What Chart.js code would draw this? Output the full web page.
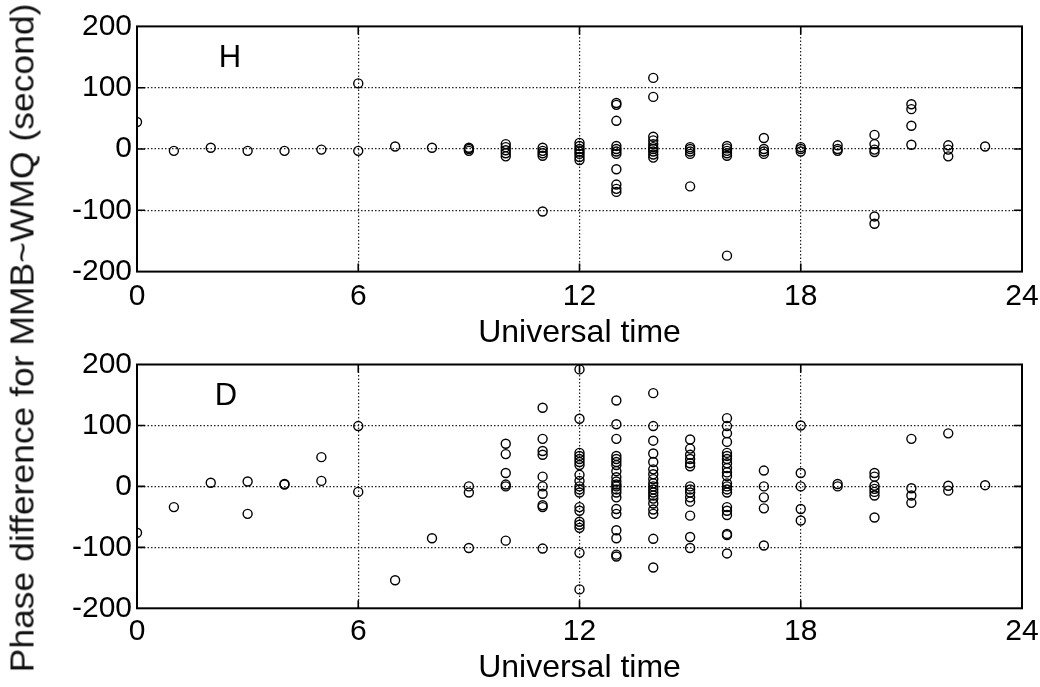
<!DOCTYPE html>
<html>
<head>
<meta charset="utf-8">
<script src="https://cdn.jsdelivr.net/npm/chart.js@4/dist/chart.umd.min.js"></script>
<style>
  html, body { margin: 0; padding: 0; background: #fff; }
  body { width: 1040px; height: 687px; position: relative; overflow: hidden; }
  .panel { position: absolute; left: 0; width: 1040px; }
  #ylabel {
    position: absolute; left: 22px; top: 338px;
    transform: translate(-50%, -50%) rotate(-90deg) scaleX(1.075);
    white-space: nowrap; font-family: "Liberation Sans", Arial, sans-serif;
    font-size: 33px; color: #111; line-height: 1;
  }
</style>
</head>
<body>
<div class="panel" style="top:0px;height:352px"><canvas id="cH" width="1040" height="352"></canvas></div>
<div class="panel" style="top:340px;height:347px"><canvas id="cD" width="1040" height="347"></canvas></div>
<div id="ylabel">Phase difference for MMB~WMQ (second)</div>
<script>
// ---- Data ----
const hours = [0,1,2,3,4,5,6,7,8,9,10,11,12,13,14,15,16,17,18,19,20,21,22,23];
const xTicks = [0, 6, 12, 18, 24];
const yTicks = [-200, -100, 0, 100, 200];
const xTitle = "Universal time";
const panelLabels = ["H", "D"];

// H component: phase differences (s) per UT hour
const hValues = [
  [44], [-3], [2], [-3], [-3], [-1], [107, -3], [4], [2],
  [2, 0, -3],
  [8, 3, -2, -7, -12],
  [2, -3, -7, -11, -102],
  [10, 5, 0, -4, -8, -13, -18],
  [75, 72, 46, 5, 0, -4, -8, -33, -58, -65, -70],
  [116, 85, 20, 14, 8, 3, 0, -4, -9, -14],
  [3, 0, -4, -8, -61],
  [5, 1, -3, -7, -11, -174],
  [18, 0, -4, -8],
  [3, 0, -4],
  [6, 0, -3],
  [23, 8, -1, -5, -110, -122],
  [73, 65, 38, 7],
  [6, -1, -12],
  [4]
];

// D component: phase differences (s) per UT hour
const dValues = [
  [-76], [-34], [6], [8, -45], [3, 4], [48, 9], [99, -9], [-154], [-85],
  [0, -10, -101],
  [70, 53, 22, 3, 0, -89],
  [129, 78, 58, 52, 16, 0, -12, -31, -34, -102],
  [192, 111, 55, 50, 45, 40, 35, 19, 9, 0, -5, -10, -34, -40, -58, -63, -68, -109, -169],
  [141, 102, 78, 50, 45, 40, 35, 25, 15, 8, 3, 0, -5, -10, -18, -37, -45, -72, -85, -112, -115],
  [153, 99, 75, 54, 40, 28, 20, 12, 5, 0, -5, -10, -15, -20, -28, -38, -45, -86, -133],
  [77, 62, 52, 45, 38, 33, 0, -5, -10, -18, -25, -48, -83, -101],
  [112, 99, 87, 73, 55, 50, 45, 38, 30, 23, 17, 5, 0, -5, -10, -34, -40, -47, -78, -80, -110],
  [26, 0, -18, -36, -97],
  [100, 22, 0, -37, -56],
  [4, 0],
  [22, 16, 1, -4, -9, -15, -51],
  [78, -3, -15, -27],
  [87, 1, -7],
  [2]
];

// ---- Build points ----
function toPoints(byHour) {
  const pts = [];
  hours.forEach((h, i) => (byHour[i] || []).forEach(v => pts.push({x: h, y: v})));
  return pts;
}

const FONT = '"Liberation Sans", Arial, sans-serif';

const framePlugin = {
  id: 'frame',
  afterDraw(chart, args, opts) {
    const {ctx, chartArea: a, scales} = chart;
    ctx.save();
    ctx.strokeStyle = '#000';
    ctx.lineWidth = 1.6;
    ctx.beginPath();
    [6, 12, 18].forEach(v => {
      const px = scales.x.getPixelForValue(v);
      ctx.moveTo(px, a.top); ctx.lineTo(px, a.top + 8);
      ctx.moveTo(px, a.bottom); ctx.lineTo(px, a.bottom - 8);
    });
    [-100, 0, 100].forEach(v => {
      const py = scales.y.getPixelForValue(v);
      ctx.moveTo(a.left, py); ctx.lineTo(a.left + 8, py);
      ctx.moveTo(a.right, py); ctx.lineTo(a.right - 8, py);
    });
    ctx.stroke();
    ctx.lineWidth = 2;
    ctx.strokeRect(a.left, a.top, a.right - a.left, a.bottom - a.top);
    ctx.fillStyle = '#000';
    ctx.font = '31px ' + FONT;
    ctx.textAlign = 'center';
    ctx.textBaseline = 'middle';
    ctx.fillText(opts.label, a.left + opts.dx, a.top + opts.dy);
    ctx.restore();
  }
};

function makeChart(id, values, label, topPad, xHeight, tickPad, labelDx, labelDy) {
  const gridColor = (c) => {
    const v = c.tick.value;
    return (v === c.scale.min || v === c.scale.max) ? 'rgba(0,0,0,0)' : '#222';
  };
  return new Chart(document.getElementById(id), {
    type: 'scatter',
    data: {
      datasets: [{
        data: toPoints(values),
        pointStyle: 'circle',
        pointRadius: 4.5,
        pointHoverRadius: 4.5,
        borderWidth: 1.4,
        borderColor: '#000',
        backgroundColor: 'rgba(0,0,0,0)',
        showLine: false
      }]
    },
    options: {
      responsive: false,
      animation: false,
      events: [],
      layout: { padding: { left: 0, right: 18, top: topPad, bottom: 0 } },
      plugins: {
        legend: { display: false },
        tooltip: { enabled: false },
        frame: { label: label, dx: labelDx, dy: labelDy }
      },
      scales: {
        x: {
          type: 'linear', min: xTicks[0], max: xTicks[xTicks.length - 1],
          afterBuildTicks: (s) => { s.ticks = xTicks.map(v => ({value: v})); },
          ticks: { color: '#000', font: { family: FONT, size: 30 }, padding: tickPad, maxRotation: 0, autoSkip: false },
          grid: { color: gridColor, lineWidth: 1.2, drawTicks: false },
          border: { display: false, dash: [1.5, 2] },
          title: { display: true, text: xTitle, color: '#000', font: { family: FONT, size: 32 }, padding: { top: 0, bottom: 0 } },
          afterFit: (s) => { s.height = xHeight; s.paddingLeft = 0; s.paddingRight = 0; }
        },
        y: {
          type: 'linear', min: yTicks[0], max: yTicks[yTicks.length - 1],
          afterBuildTicks: (s) => { s.ticks = yTicks.map(v => ({value: v})); },
          ticks: { color: '#000', font: { family: FONT, size: 30 }, padding: 5, autoSkip: false },
          grid: { color: gridColor, lineWidth: 1.2, drawTicks: false },
          border: { display: false, dash: [1.5, 2] },
          afterFit: (s) => { s.width = 137; }
        }
      }
    },
    plugins: [framePlugin]
  });
}

makeChart('cH', hValues, panelLabels[0], 26.4, 80.4, 7, 93, 32);
makeChart('cD', dValues, panelLabels[1], 24.5, 78.7, 5.5, 89, 32);
</script>
</body>
</html>
